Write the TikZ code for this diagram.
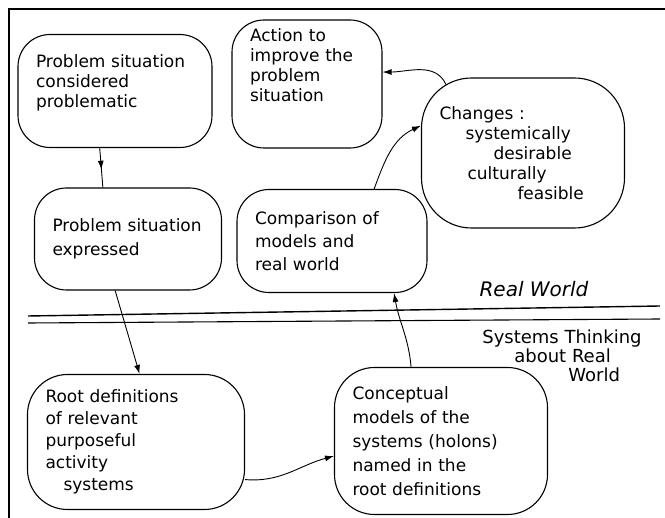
\documentclass[tikz,border=0pt]{standalone}
\usepackage{fontspec}
\setmainfont{DejaVu Sans}
\usetikzlibrary{arrows.meta, decorations.markings}
\tikzset{
    blob/.style={draw, line width=1.1pt, rounded corners=32pt, align=left, inner xsep=18pt, inner ysep=4pt, font=\fontsize{17}{20}\selectfont},
    flow/.style={line width=0.9pt, -{Latex[length=9pt, width=6pt]}},
    midflow/.style={line width=0.9pt, postaction={decorate}, decoration={markings, mark=at position 0.55 with {\arrow{Latex[length=9pt, width=6pt]}}}},
    worldlabel/.style={align=left, font=\fontsize{18}{19}\selectfont},
}
\begin{document}
\begin{tikzpicture}[x=1pt, y=-1pt]
        \useasboundingbox (0,0) rectangle (665,518);
        \draw[line width=2.5pt] (9,518) -- (9,9) -- (665,9);

        \node[blob, text width=158pt, minimum height=113pt] (sit) at (115,91) {Problem situation\\considered\\problematic\\[0pt]\mbox{}};
        \node[blob, text width=114pt, minimum height=128pt] (act) at (307,84) {Action to\\improve the\\problem\\situation\\[18pt]\mbox{}};
        \node[blob, rounded corners=50pt, text width=167pt, minimum height=150pt] (chg) at (523,153) {Changes :\\\hspace*{26pt}systemically\\\hspace*{54pt}desirable\\\hspace*{28pt}culturally\\\hspace*{78pt}feasible};
        \node[blob, text width=151pt, minimum height=102pt, font=\fontsize{17}{24}\selectfont] (expr) at (128,239) {Problem situation\\expressed};
        \node[blob, text width=154pt, minimum height=103pt, font=\fontsize{17}{23}\selectfont] (cmp) at (332,241) {Comparison of\\models and\\real world};
        \node[blob, rounded corners=40pt, text width=181pt, minimum height=135pt, font=\fontsize{17}{22}\selectfont] (root) at (136,442) {Root definitions\\of relevant\\purposeful\\activity\\\hspace*{18pt}systems};
        \node[blob, rounded corners=40pt, text width=177pt, minimum height=147pt, font=\fontsize{17}{24}\selectfont] (cm) at (441,441) {Conceptual\\models of the\\systems (holons)\\named in the\\root definitions};

        \draw[line width=1.4pt] (28,316) -- (660,306);
        \draw[line width=1.1pt] (28,323) -- (660,319);
        \node[worldlabel, font=\itshape\fontsize{20}{20}\selectfont] (rw) at (534,289) {Real World};
        \node[worldlabel] (stw) at (562,356) {Systems Thinking\\\hspace*{32pt}about Real\\\hspace*{86pt}World};

        \draw[midflow] (sit.-105) -- (expr.116);
        \draw[flow] (expr.-104) -- (root.87);
        \draw[flow] (root.-19) to[out=-5, in=195] (cm.188);
        \draw[flow] (cm.112) to[out=95, in=-80] (cmp.-40);
        \draw[flow] (cmp.51) to[out=70, in=205] (chg.165);
        \draw[flow] ([shift={(25,7)}]chg.north west) to[out=115, in=0] (act.9);
\end{tikzpicture}
\end{document}
